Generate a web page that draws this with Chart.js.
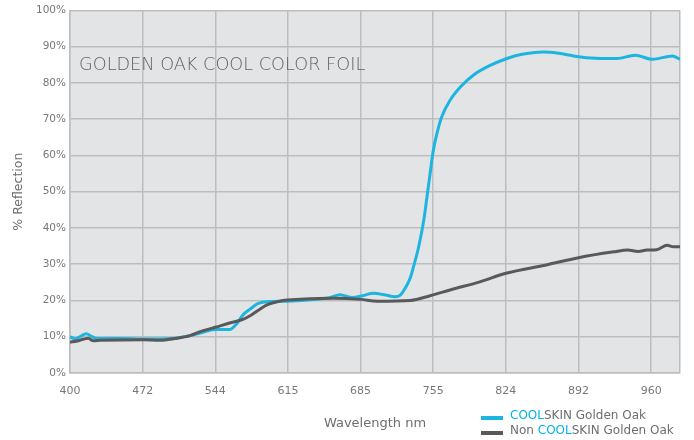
<!DOCTYPE html>
<html>
<head>
<meta charset="utf-8">
<script src="https://cdn.jsdelivr.net/npm/chart.js@4"></script>
<style>
  html, body { margin: 0; padding: 0; background: #ffffff; }
  #wrap { position: relative; width: 694px; height: 440px; overflow: hidden; }
  #chart { position: absolute; left: 0; top: 0; }
  .label { position: absolute; font-family: "DejaVu Sans", sans-serif; color: #6d6e71; white-space: nowrap; }
  #heading { left: 79px; top: 54px; font-size: 17.7px; line-height: 20px; font-weight: 300; color: #616265; }
  .row { left: 510px; font-size: 12px; line-height: 15px; }
  .sw { position: absolute; left: 481px; width: 22px; height: 4px; }
  .cool { color: #00b4e4; }
</style>
</head>
<body>
<div id="wrap">
  <canvas id="chart" width="694" height="440"></canvas>
  <div id="heading" class="label">GOLDEN OAK COOL COLOR FOIL</div>
  <div class="sw" id="swCool" style="top:416px"></div>
  <div class="label row" style="top:408px"><span class="cool">COOL</span>SKIN Golden Oak</div>
  <div class="sw" id="swNon" style="top:431px"></div>
  <div class="label row" style="top:423px">Non <span class="cool">COOL</span>SKIN Golden Oak</div>
</div>
<script>
// Wavelength tick labels (evenly spaced on the axis)
const tickNm = [400, 472, 544, 615, 685, 755, 824, 892, 960];
const axisEndNm = 987;
const yTicks = [0, 10, 20, 30, 40, 50, 60, 70, 80, 90, 100];

// COOLSKIN Golden Oak reflectance
const coolNm  = [400, 405, 411, 416, 422, 427, 450, 472, 489, 504, 519, 529, 544, 558, 565, 571, 578, 586, 598, 615,
                 642, 656, 665, 677, 687, 697, 709, 718, 723, 730, 733, 736, 741, 746, 749, 752, 755, 758.5, 763, 771,
                 781, 793, 809, 825, 838, 859, 875, 894, 912, 928, 945, 961, 980, 987];
const coolPct = [10.0, 9.4, 10.2, 10.8, 10.0, 9.5, 9.5, 9.4, 9.4, 9.6, 10.3, 11.0, 12.0, 12.0, 13.6, 16.0, 17.6, 19.2, 19.7, 19.8,
                 20.3, 20.8, 21.6, 20.8, 21.3, 22.0, 21.5, 21.0, 21.4, 24.4, 26.3, 29.3, 34.8, 42.3, 48.6, 55.0, 61.2, 66.0, 70.6, 75.2,
                 78.9, 82.1, 84.8, 86.7, 87.8, 88.5, 88.1, 87.1, 86.7, 86.7, 87.6, 86.5, 87.4, 86.5];

// Non COOLSKIN Golden Oak reflectance
const nonNm  = [400, 407, 413, 418, 423, 430, 472, 489, 504, 519, 529, 544, 558, 571, 578, 586, 594, 609, 627, 659,
                685, 701, 733, 752, 771, 800, 824, 862, 892, 925, 938, 948, 956, 965, 975, 981, 987];
const nonPct = [8.5, 8.8, 9.3, 9.6, 8.9, 9.0, 9.2, 9.0, 9.5, 10.3, 11.4, 12.6, 13.8, 14.8, 15.8, 17.3, 18.7, 19.9, 20.3, 20.6,
                20.3, 19.8, 20.0, 21.3, 22.9, 25.2, 27.5, 29.8, 31.8, 33.4, 33.9, 33.5, 33.9, 34.0, 35.2, 34.8, 34.8];

const coolColor = '#1cb5e0';
const nonColor = '#58595b';
const gridColor = '#bcbdbf';
const textColor = '#77787a';

// The axis is laid out in tick steps; wavelengths are placed piecewise between labels
function nmToAxis(nm) {
  for (let i = 0; i < tickNm.length - 1; i++) {
    if (nm <= tickNm[i + 1]) return i + (nm - tickNm[i]) / (tickNm[i + 1] - tickNm[i]);
  }
  const last = tickNm.length - 1;
  return last + (nm - tickNm[last]) / (tickNm[last] - tickNm[last - 1]);
}
const xMax = nmToAxis(axisEndNm);

const toPoints = (xs, ys) => xs.map((nm, i) => ({ x: nmToAxis(nm), y: ys[i] }));

document.getElementById('swCool').style.background = coolColor;
document.getElementById('swNon').style.background = nonColor;

const plotBackground = {
  id: 'plotBackground',
  beforeDraw(chart) {
    const { ctx, chartArea: a } = chart;
    ctx.save();
    ctx.fillStyle = '#e3e4e6';
    ctx.fillRect(a.left, a.top, a.right - a.left, a.bottom - a.top);
    ctx.restore();
  }
};

new Chart(document.getElementById('chart'), {
  type: 'line',
  data: {
    datasets: [
      {
        label: 'Non COOLSKIN Golden Oak',
        data: toPoints(nonNm, nonPct),
        borderColor: nonColor,
        borderWidth: 3,
        pointRadius: 0,
        cubicInterpolationMode: 'monotone',
        order: 1
      },
      {
        label: 'COOLSKIN Golden Oak',
        data: toPoints(coolNm, coolPct),
        borderColor: coolColor,
        borderWidth: 3,
        pointRadius: 0,
        cubicInterpolationMode: 'monotone',
        order: 2
      }
    ]
  },
  options: {
    responsive: false,
    devicePixelRatio: 1,
    animation: false,
    layout: { padding: { left: 0, right: 14, top: 10, bottom: 0 } },
    plugins: { legend: { display: false }, tooltip: { enabled: false } },
    scales: {
      x: {
        type: 'linear',
        min: 0,
        max: xMax,
        afterBuildTicks(scale) {
          scale.ticks = tickNm.map((_, i) => ({ value: i })).concat([{ value: xMax }]);
        },
        afterFit(scale) { scale.height = 67; },
        grid: { color: gridColor, lineWidth: 1.5, drawTicks: false },
        border: { color: gridColor, width: 1.5 },
        ticks: {
          padding: 12,
          color: textColor,
          font: { family: 'DejaVu Sans', size: 11 },
          maxRotation: 0,
          autoSkip: false,
          callback: (v) => Number.isInteger(v) ? String(tickNm[v]) : ''
        },
        title: {
          display: true,
          text: 'Wavelength nm',
          color: '#6d6e71',
          font: { family: 'DejaVu Sans', size: 13 },
          padding: { top: 0, bottom: 9 }
        }
      },
      y: {
        min: 0,
        max: 100,
        afterBuildTicks(scale) { scale.ticks = yTicks.map(v => ({ value: v })); },
        afterFit(scale) { scale.width = 70; },
        grid: { color: gridColor, lineWidth: 1.5, drawTicks: false },
        border: { color: gridColor, width: 1.5 },
        ticks: {
          padding: 4,
          color: textColor,
          font: { family: 'DejaVu Sans', size: 10.5 },
          callback: (v) => v + '%'
        },
        title: {
          display: true,
          text: '% Reflection',
          color: '#6d6e71',
          font: { family: 'DejaVu Sans', size: 12.5 },
          padding: { top: 11, bottom: 0 }
        }
      }
    }
  },
  plugins: [plotBackground]
});
</script>
</body>
</html>
